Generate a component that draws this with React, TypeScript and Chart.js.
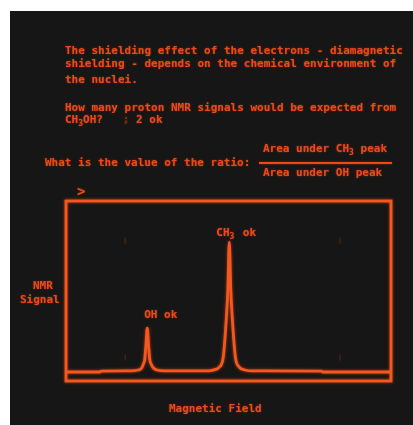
import React, { useEffect, useRef } from "react";
import { Chart, registerables } from "chart.js";

Chart.register(...registerables);

// Magnetic field (arbitrary units, 0..100 across the plot)
const fieldValues = [
  0, 10.5, 10.8, 19.7, 22.2, 23.3, 23.8, 24.2, 24.6, 25.0, 25.4, 25.8, 26.2,
  26.9, 28.0, 30.5, 42.8, 45.2, 47.3, 48.4, 49.3, 49.8, 50.25, 50.7, 51.2,
  52.1, 53.2, 55.1, 57.5, 78.6, 78.9, 100,
];
// NMR signal (arbitrary units, 0..100)
const signalValues = [
  5.0, 5.0, 5.5, 5.6, 6.1, 7.2, 9.4, 11.7, 20, 29.4, 20, 11.7, 9.4, 7.2, 6.1,
  5.6, 5.6, 6.1, 7.9, 13.5, 33.9, 50.6, 77.2, 50.6, 33.9, 13.5, 7.9, 6.1, 5.6,
  5.5, 5.0, 5.0,
];
// Peak labels (left to right)
const peakNames = ["OH", "CH3"];
const peakAnswers = ["ok", "ok"];
// Faint guide marks
const markFields = [18.2, 84.3];
const markSignals = [13, 78];

const ORANGE = "#ea4a1a";
const LINE = "#f4581e";
const BG = "#161616";
const FONT = "'DejaVu Sans Mono', monospace";

const framePlugin = {
  id: "frame",
  beforeDatasetsDraw(chart: any) {
    const { ctx, chartArea: a, scales } = chart;
    ctx.save();
    ctx.strokeStyle = "rgba(160,40,20,0.6)";
    ctx.lineWidth = 1;
    markFields.forEach((fx) => {
      markSignals.forEach((sy) => {
        const px = scales.x.getPixelForValue(fx);
        const py = scales.y.getPixelForValue(sy);
        ctx.beginPath();
        ctx.moveTo(px, py - 3);
        ctx.lineTo(px, py + 3);
        ctx.stroke();
      });
    });
    ctx.shadowColor = "rgba(255,80,20,0.7)";
    ctx.shadowBlur = 3;
    ctx.strokeStyle = LINE;
    ctx.lineWidth = 2.8;
    ctx.strokeRect(a.left, a.top, a.right - a.left, a.bottom - a.top);
    ctx.restore();
    ctx.save();
    ctx.shadowColor = "rgba(255,80,20,0.7)";
    ctx.shadowBlur = 3;
  },
  afterDatasetsDraw(chart: any) {
    const { ctx } = chart;
    ctx.restore();
    const meta = chart.getDatasetMeta(0);
    const pts = meta.data;
    const peaks: any[] = [];
    for (let i = 1; i < signalValues.length - 1; i++) {
      if (signalValues[i] > signalValues[i - 1] && signalValues[i] > signalValues[i + 1]) {
        peaks.push(pts[i]);
      }
    }
    ctx.save();
    ctx.fillStyle = ORANGE;
    ctx.shadowColor = "rgba(255,70,20,0.6)";
    ctx.shadowBlur = 2;
    ctx.textBaseline = "middle";
    ctx.textAlign = "left";
    const offsets = [
      { dx: -3, dy: -13 },
      { dx: -13, dy: -9 },
    ];
    peaks.forEach((p, k) => {
      const name = peakNames[k];
      const ans = peakAnswers[k];
      const o = offsets[k];
      let x = p.x + o.dx;
      const y = p.y + o.dy;
      ctx.font = `bold 11px ${FONT}`;
      const m = name.match(/^([A-Za-z]+)(\d*)$/);
      const letters = m ? m[1] : name;
      const sub = m ? m[2] : "";
      ctx.fillText(letters, x, y);
      x += ctx.measureText(letters).width;
      if (sub) {
        ctx.font = `bold 8px ${FONT}`;
        ctx.fillText(sub, x, y + 4);
        ctx.font = `bold 11px ${FONT}`;
        x += ctx.measureText("0").width;
      }
      ctx.fillText(" " + ans, x, y);
    });
    ctx.restore();
  },
};

function Txt(props: { x: number; y: number; children: any; color?: string; size?: number }) {
  return (
    <div
      style={{
        position: "absolute",
        left: props.x,
        top: props.y,
        fontFamily: FONT,
        fontWeight: "bold",
        fontSize: props.size || 11,
        lineHeight: "12px",
        whiteSpace: "pre",
        color: props.color || ORANGE,
        textShadow: "0 0 2px rgba(255,70,20,0.55)",
      }}
    >
      {props.children}
    </div>
  );
}

function Sub3() {
  return (
    <span
      style={{
        display: "inline-block",
        width: "0.6em",
        fontSize: 8,
        position: "relative",
        top: 3,
      }}
    >
      3
    </span>
  );
}

export default function App() {
  const ref = useRef<HTMLCanvasElement | null>(null);
  useEffect(() => {
    if (!ref.current) return;
    const chart = new Chart(ref.current, {
      type: "line",
      data: {
        datasets: [
          {
            data: fieldValues.map((x, i) => ({ x, y: signalValues[i] })),
            borderColor: LINE,
            borderWidth: 2.8,
            pointRadius: 0,
            fill: false,
            cubicInterpolationMode: "monotone",
          },
        ],
      },
      options: {
        animation: false,
        responsive: false,
        layout: { padding: { left: 56, right: 22, top: 190, bottom: 44 } },
        scales: {
          x: { type: "linear", min: 0, max: 100, display: false },
          y: { min: 0, max: 100, display: false },
        },
        plugins: { legend: { display: false }, tooltip: { enabled: false } },
      },
      plugins: [framePlugin],
    } as any);
    return () => chart.destroy();
  }, []);

  return (
    <div
      style={{
        position: "fixed",
        left: 0,
        top: 0,
        width: 413,
        height: 425,
        background: "#ffffff",
        overflow: "hidden",
      }}
    >
      <div
        style={{
          position: "absolute",
          left: 10,
          top: 11,
          width: 403,
          height: 414,
          background: BG,
        }}
      />
      <canvas
        ref={ref}
        width={403}
        height={414}
        style={{ position: "absolute", left: 10, top: 11, width: 403, height: 414 }}
      />
      <Txt x={65} y={45}>The shielding effect of the electrons - diamagnetic</Txt>
      <Txt x={65} y={58}>shielding - depends on the chemical environment of</Txt>
      <Txt x={65} y={74}>the nuclei.</Txt>
      <Txt x={65} y={102}>How many proton NMR signals would be expected from</Txt>
      <Txt x={65} y={114}>
        CH<Sub3 />OH?{"   "}
        <span style={{ color: "#7a2a14" }}>;</span> 2 ok
      </Txt>
      <Txt x={45} y={157}>What is the value of the ratio:</Txt>
      <Txt x={263} y={143}>
        Area under CH<Sub3 /> peak
      </Txt>
      <div
        style={{
          position: "absolute",
          left: 259,
          top: 162,
          width: 133,
          height: 2,
          background: ORANGE,
          boxShadow: "0 0 2px rgba(255,70,20,0.55)",
        }}
      />
      <Txt x={263} y={167}>Area under OH peak</Txt>
      <Txt x={77} y={185} size={14}>&gt;</Txt>
      <Txt x={33} y={280}>NMR</Txt>
      <Txt x={20} y={294}>Signal</Txt>
      <Txt x={169} y={403}>Magnetic Field</Txt>
    </div>
  );
}
